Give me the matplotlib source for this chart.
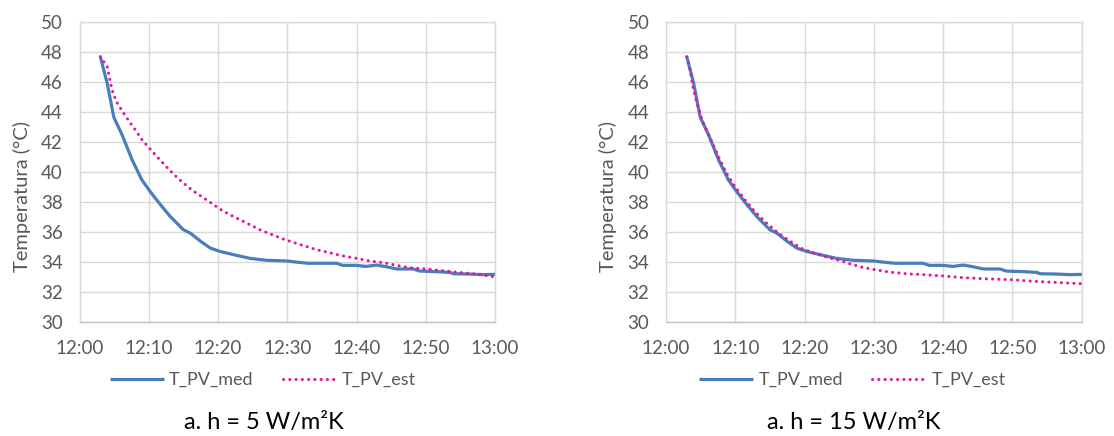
import matplotlib.pyplot as plt

# -----------------------
# Data (minutes after 12:00, temperature in °C)
# -----------------------
t_med = [3, 4, 4.95, 6.15, 7.6, 9.0, 10.2, 11.7, 13.1, 15.0, 16.0, 17.5,
         18.9, 20.3, 22.3, 24.6, 27.0, 28.9, 30.0, 31.3, 33.0, 37.1, 38.0,
         40.0, 41.4, 42.9, 44.3, 45.8, 48.2, 49.1, 51.6, 53.5, 54.0, 56.4,
         58.3, 60]
T_med = [47.72, 45.93, 43.67, 42.49, 40.82, 39.49, 38.71, 37.82, 37.04,
         36.16, 35.93, 35.38, 34.93, 34.71, 34.49, 34.25, 34.12, 34.09,
         34.07, 34.0, 33.92, 33.92, 33.78, 33.78, 33.71, 33.8, 33.69, 33.54,
         33.54, 33.4, 33.36, 33.31, 33.22, 33.2, 33.16, 33.18]

# estimate, h = 5 W/m2K
t_est5 = [3, 4.0, 4.7, 5.33, 6.15, 7.1, 8.07, 9.03, 10.1, 11.3, 12.5, 13.7,
          14.9, 16.2, 17.6, 18.9, 20.3, 21.7, 23.2, 24.6, 26.2, 27.8, 29.4,
          31.1, 32.7, 34.2, 35.9, 37.6, 40.0, 41.7, 44.1, 45.8, 47.7, 50.0,
          52.5, 54.7, 56.8, 58.3, 60]
T_est5 = [47.72, 47.04, 45.49, 44.71, 44.09, 43.44, 42.82, 42.16, 41.6,
          40.98, 40.38, 39.82, 39.31, 38.82, 38.38, 37.98, 37.53, 37.16,
          36.82, 36.5, 36.12, 35.83, 35.54, 35.28, 35.05, 34.83, 34.65,
          34.45, 34.25, 34.09, 33.94, 33.78, 33.62, 33.54, 33.42, 33.31,
          33.22, 33.13, 33.0]

# estimate, h = 15 W/m2K
t_est15 = [3, 3.46, 3.85, 4.42, 5.14, 5.96, 6.83, 7.8, 8.75, 9.95, 11.4,
           12.8, 14.5, 16.2, 17.9, 19.6, 21.25, 23.2, 25.0, 26.5, 28.2, 29.9,
           32.3, 34.7, 37.1, 40.0, 42.9, 45.8, 50.0, 52.6, 55.0, 57.9, 60]
T_est15 = [47.72, 46.9, 45.79, 44.68, 43.58, 42.69, 41.81, 40.81, 39.92,
           39.04, 38.15, 37.38, 36.61, 35.94, 35.39, 34.9, 34.61, 34.33,
           34.12, 33.89, 33.67, 33.51, 33.33, 33.22, 33.16, 33.07, 32.96,
           32.89, 32.82, 32.73, 32.67, 32.6, 32.56]

x_ticks = [0, 10, 20, 30, 40, 50, 60]
x_labels = ["12:00", "12:10", "12:20", "12:30", "12:40", "12:50", "13:00"]
y_ticks = list(range(30, 51, 2))

captions = ["a. h = 5 W/m²K", "a. h = 15 W/m²K"]

# -----------------------
# Style
# -----------------------
plt.rcParams['font.family'] = ['Lato', 'DejaVu Sans']
blue = '#4A7EBB'
pink = '#DE1A9A'
grey_txt = '#595959'
grid_c = '#D9D9D9'

fig = plt.figure(figsize=(11.14, 4.36), dpi=100)

ax_l = fig.add_axes([0.0714, 0.2615, 0.373, 0.687])
ax_r = fig.add_axes([0.5978, 0.2615, 0.3733, 0.687])

for ax, (t_e, T_e), cap, cx in [
        (ax_l, (t_est5, T_est5), captions[0], 0.236),
        (ax_r, (t_est15, T_est15), captions[1], 0.765)]:
    ax.plot(t_med, T_med, color=blue, linewidth=2.3,
            solid_capstyle='butt', label='T_PV_med', zorder=3)
    ax.plot(t_e, T_e, color=pink, linewidth=2.2, linestyle=(0, (0.05, 2.0)),
            dash_capstyle='round', label='T_PV_est', zorder=4)

    ax.set_xlim(0, 60)
    ax.set_ylim(30, 50)
    ax.set_xticks(x_ticks)
    ax.set_xticklabels(x_labels)
    ax.set_yticks(y_ticks)
    ax.tick_params(axis='both', length=0, labelsize=13.5, colors=grey_txt)
    ax.tick_params(axis='y', pad=12)
    ax.tick_params(axis='x', pad=13)
    ax.grid(True, color=grid_c, linewidth=1.0)
    ax.set_axisbelow(True)
    for s in ax.spines.values():
        s.set_color(grid_c)
        s.set_linewidth(1.0)
    ax.spines['bottom'].set_color('#BFBFBF')

    ax.set_ylabel("Temperatura (°C)", fontsize=14.5, color=grey_txt)
    ax.yaxis.set_label_coords(-0.117, 0.42)

    leg = fig.legend(*ax.get_legend_handles_labels(), loc='center',
                     bbox_to_anchor=(cx, 0.128), ncol=2, frameon=False,
                     fontsize=13, handlelength=3.0, handletextpad=0.3,
                     columnspacing=1.6)
    for txt in leg.get_texts():
        txt.set_color(grey_txt)

    fig.text(cx + 0.001, 0.032, cap, ha='center', va='center',
             fontsize=17, color='black')

plt.savefig("out.png", dpi=100)
